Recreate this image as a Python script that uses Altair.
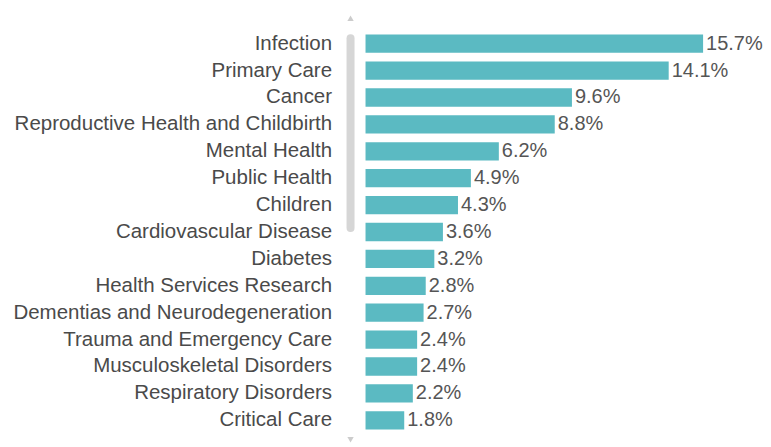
import altair as alt
import pandas as pd

categories = [
    "Infection", "Primary Care", "Cancer", "Reproductive Health and Childbirth",
    "Mental Health", "Public Health", "Children", "Cardiovascular Disease",
    "Diabetes", "Health Services Research", "Dementias and Neurodegeneration",
    "Trauma and Emergency Care", "Musculoskeletal Disorders",
    "Respiratory Disorders", "Critical Care",
]
values = [15.7, 14.1, 9.6, 8.8, 6.2, 4.9, 4.3, 3.6, 3.2, 2.8, 2.7, 2.4, 2.4, 2.2, 1.8]

df = pd.DataFrame({"category": categories, "value": values})
df["label"] = [f"{v:.1f}%" for v in values]

FONT = "Liberation Sans"
BAR = "#5bbac2"
FS = 20.5

y_enc = alt.Y(
    "category:N", sort=None, title=None,
    scale=alt.Scale(paddingInner=0.32, paddingOuter=0.16),
    axis=alt.Axis(domain=False, ticks=False, labelPadding=34, labelFontSize=FS,
                  labelFont=FONT, labelColor="#4a4a4a", labelLimit=400),
)
x_enc = alt.X("value:Q", title=None, scale=alt.Scale(domain=[0, 17]), axis=None)

bars = alt.Chart(df).mark_bar(color=BAR).encode(y=y_enc, x=x_enc)
texts = alt.Chart(df).mark_text(
    align="left", baseline="middle", dx=3, fontSize=20, font=FONT, color="#555555"
).encode(y=y_enc, x=x_enc, text="label:N")

dummy = pd.DataFrame({"d": [0]})
scrollbar = alt.Chart(dummy).mark_rule(
    color="#d6d6d6", strokeWidth=8, strokeCap="round"
).encode(x=alt.value(-15), y=alt.value(8), y2=alt.value(198))
up = alt.Chart(dummy).mark_point(
    shape="triangle-up", filled=True, color="#cccccc", size=40, opacity=1
).encode(x=alt.value(-15), y=alt.value(-12))
down = alt.Chart(dummy).mark_point(
    shape="triangle-down", filled=True, color="#cccccc", size=40, opacity=1
).encode(x=alt.value(-15), y=alt.value(410))

chart = alt.layer(scrollbar, up, down, bars, texts).properties(
    width=366, height=404,
    autosize=alt.AutoSizeParams(type="none"),
    padding={"left": 358, "top": 22, "right": 32, "bottom": 10},
).configure(background="white").configure_view(strokeWidth=0, stroke=None)

chart.save("out.html", embed_options={"renderer": "svg", "actions": False})
